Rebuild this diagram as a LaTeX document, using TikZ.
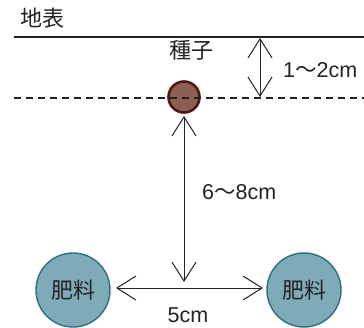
\documentclass[tikz,border=0pt]{standalone}
\usepackage{fontspec}
\setmainfont{Liberation Sans}
\newfontfamily\cjk{Noto Sans CJK JP}
\usetikzlibrary{arrows.meta}
\definecolor{seedfill}{HTML}{8C5F55}
\definecolor{seeddraw}{HTML}{4D1A12}
\definecolor{fertfill}{HTML}{7FABB9}
\definecolor{fertdraw}{HTML}{2C6F7E}
\definecolor{ink}{HTML}{222222}
\tikzset{
  lbl/.style={font=\fontsize{21.5}{24}\selectfont, text=ink, inner sep=0pt},
  cjklbl/.style={font=\cjk\fontsize{22}{24}\selectfont, text=ink, inner sep=0pt},
  dimarrow/.style={draw=ink, line width=1pt, {Straight Barb[length=19pt,width=24pt]}-{Straight Barb[length=19pt,width=24pt]}},
  fert/.style={circle, fill=fertfill, draw=fertdraw, line width=1.4pt, minimum size=74pt, inner sep=0pt, font=\cjk\fontsize{22}{24}\selectfont, text=ink},
  seed/.style={circle, fill=seedfill, draw=seeddraw, line width=2.6pt, minimum size=31pt, inner sep=0pt}
}
\begin{document}
\begin{tikzpicture}[x=1pt,y=-1pt]
\useasboundingbox (0,0) rectangle (364,327);
\node[cjklbl] (chihyo) at (42,18) {地表};
\coordinate (s0) at (14,37);
\coordinate (s1) at (364,37);
\draw[ink, line width=1.4pt] (s0) -- (s1);
\node[seed] (seed) at (184,97) {};
\coordinate (d0) at (14,98);
\coordinate (d1) at (364,98);
\draw[ink, line width=1.4pt, dash pattern=on 7pt off 5pt] (d0) -- (d1);
\node[cjklbl] (shushi) at (191,50) {種子};
\coordinate (a0) at (260,38);
\coordinate (a1) at (260,97);
\draw[dimarrow] (a0) -- (a1);
\node[lbl, anchor=west] (d12) at (283,70) {1{\cjk 〜}2cm};
\node[fert] (f1) at (73,290) {肥料};
\node[fert] (f2) at (304,290) {肥料};
\coordinate (v0) at (184,116);
\coordinate (v1) at (184,282);
\draw[dimarrow] (v0) -- (v1);
\node[lbl, anchor=west] (d68) at (202,192) {6{\cjk 〜}8cm};
\coordinate (h0) at (116,288);
\coordinate (h1) at (263,288);
\draw[dimarrow] (h0) -- (h1);
\node[lbl] (d5) at (188,315) {5cm};
\end{tikzpicture}
\end{document}
